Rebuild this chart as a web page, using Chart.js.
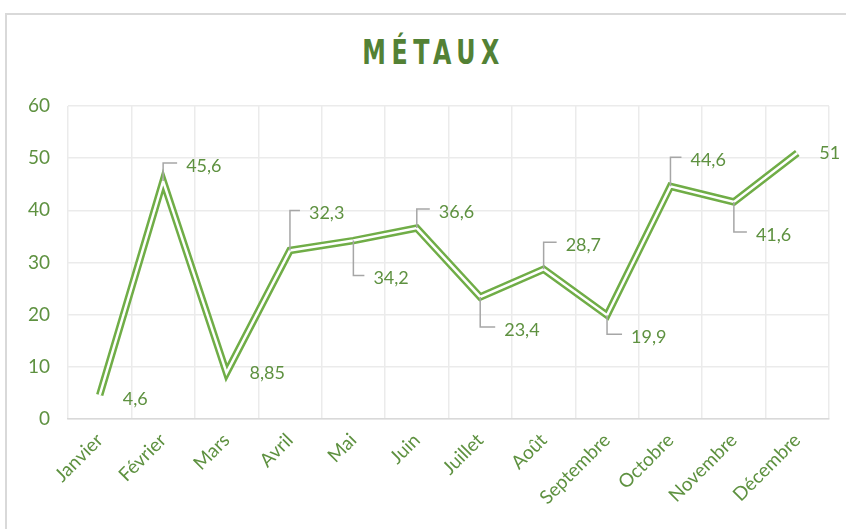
<!DOCTYPE html>
<html>
<head>
<meta charset="utf-8">
<script src="https://cdn.jsdelivr.net/npm/chart.js@4.4.1/dist/chart.umd.min.js"></script>
<style>
  html, body { margin: 0; padding: 0; background: #fff; }
  #wrap { position: relative; width: 846px; height: 529px; overflow: hidden; }
  #frame { position: absolute; left: 5px; top: 13px; width: 900px; height: 600px; border: 2px solid #d9d9d9; box-sizing: border-box; }
  #title { position: absolute; left: 0; top: 33px; width: 866px; text-align: center;
    font-family: 'Liberation Sans Narrow', 'DejaVu Sans Condensed', sans-serif; font-weight: bold;
    font-size: 33px; letter-spacing: 7px; color: #538135; transform: scaleX(0.8); transform-origin: 436px 0; }
  canvas { position: absolute; left: 0; top: 0; }
</style>
</head>
<body>
<div id="wrap">
  <div id="frame"></div>
  <div id="title">MÉTAUX</div>
  <canvas id="metaux" width="846" height="529"></canvas>
</div>
<script>
const months = ['Janvier', 'Février', 'Mars', 'Avril', 'Mai', 'Juin', 'Juillet', 'Août', 'Septembre', 'Octobre', 'Novembre', 'Décembre'];
const values = [4.6, 45.6, 8.85, 32.3, 34.2, 36.6, 23.4, 28.7, 19.9, 44.6, 41.6, 51];
const yTicks = [0, 10, 20, 30, 40, 50, 60];

// where each value label sits relative to its point, and whether it gets a leader line
const labelDx = [23, 23, 23, 19, 20, 22, 24, 22, 24, 20, 22, 22];
const labelDy = [4, -15, 0, -37, 38, -16, 33, -24, 22, -26, 33, 0];
const hasLeader = [false, true, false, true, true, true, true, true, true, true, true, false];

const green = '#70ad47';
const textGreen = '#5e9140';
const font = 'Lato, sans-serif';

const valueLabels = {
  id: 'valueLabels',
  afterDatasetsDraw(chart) {
    const ctx = chart.ctx;
    const meta = chart.getDatasetMeta(0);
    ctx.save();
    meta.data.forEach((pt, i) => {
      const x = pt.x, y = pt.y;
      const ly = y + labelDy[i];
      if (hasLeader[i]) {
        const lead = ly - 3;
        ctx.strokeStyle = '#a6a6a6';
        ctx.lineWidth = 1.5;
        ctx.beginPath();
        ctx.moveTo(x, y);
        ctx.lineTo(x, lead);
        ctx.lineTo(x + labelDx[i] - 9, lead);
        ctx.stroke();
      }
      ctx.fillStyle = textGreen;
      ctx.font = '18px ' + font;
      ctx.textAlign = 'left';
      ctx.textBaseline = 'middle';
      ctx.fillText(String(values[i]).replace('.', ','), x + labelDx[i], ly);
    });
    ctx.restore();
  }
};

new Chart(document.getElementById('metaux').getContext('2d'), {
  type: 'line',
  data: {
    labels: months,
    datasets: [{
      data: values,
      borderColor: '#ffffff',
      borderWidth: 2.5,
      borderJoinStyle: 'miter',
      pointRadius: 0,
      tension: 0,
      order: 0
    }, {
      data: values,
      borderColor: green,
      borderWidth: 7.5,
      borderJoinStyle: 'miter',
      pointRadius: 0,
      tension: 0,
      order: 1
    }]
  },
  options: {
    responsive: false,
    animation: false,
    layout: { padding: { left: 0, right: 17, top: 106, bottom: 12 } },
    plugins: {
      legend: { display: false },
      tooltip: { enabled: false },
      title: { display: false }
    },
    scales: {
      x: {
        offset: true,
        grid: { offset: true, color: '#ebebeb', lineWidth: 1.5, drawTicks: false },
        border: { color: '#d9d9d9', width: 1.5 },
        afterFit(scale) { scale.height = 98; },
        ticks: {
          autoSkip: false, minRotation: 45, maxRotation: 45, padding: 10,
          color: textGreen, font: { family: 'Lato', size: 19 }
        }
      },
      y: {
        min: 0, max: 60,
        afterBuildTicks(scale) { scale.ticks = yTicks.map(v => ({ value: v })); },
        afterFit(scale) { scale.width = 68; },
        grid: { color: '#ebebeb', lineWidth: 1.5, drawTicks: false },
        border: { display: false },
        ticks: { padding: 18, color: textGreen, font: { family: 'Lato', size: 19 } }
      }
    }
  },
  plugins: [valueLabels]
});
</script>
</body>
</html>
